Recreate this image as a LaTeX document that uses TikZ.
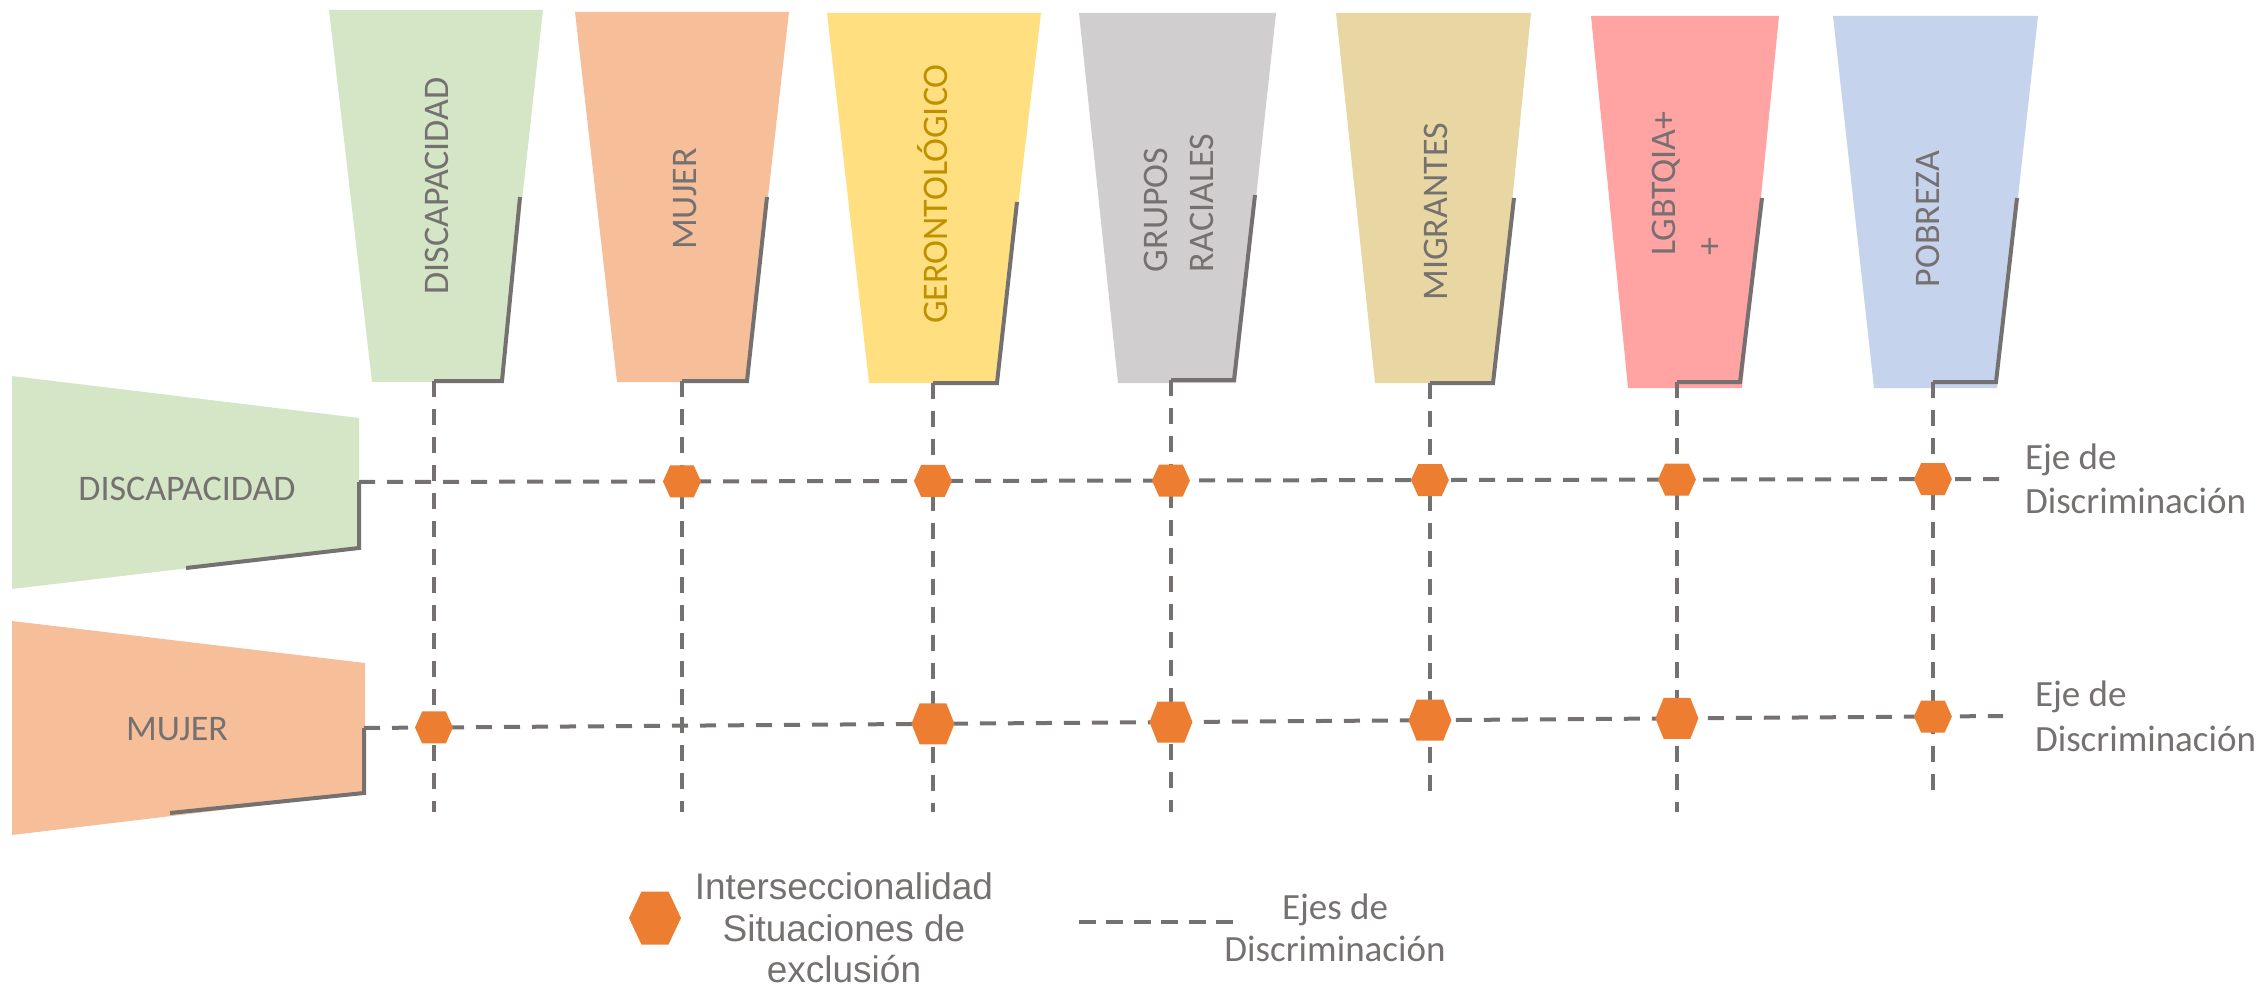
\documentclass[tikz,border=0pt]{standalone}
\usepackage{fontspec}
\setmainfont{Carlito}
\newfontfamily\arialf{Liberation Sans}
\usetikzlibrary{calc}
\definecolor{tgray}{HTML}{767171}
\definecolor{tgold}{HTML}{BF9000}
\definecolor{hexorange}{HTML}{ED7D31}
\definecolor{cgreen}{RGB}{212,230,198}
\definecolor{cpeach}{RGB}{247,191,153}
\definecolor{cyellow}{RGB}{255,223,128}
\definecolor{cgrey}{RGB}{208,206,206}
\definecolor{ctan}{RGB}{232,214,163}
\definecolor{cpink}{RGB}{255,163,163}
\definecolor{cblue}{RGB}{197,211,236}
\tikzset{
  axisline/.style={draw=tgray, line width=4pt, dash pattern=on 16pt off 12pt},
  edgeline/.style={draw=tgray, line width=4pt, line join=miter},
  lbl/.style={text=tgray, font=\fontsize{36}{46}\selectfont, inner sep=0pt, outer sep=0pt},
  hexbox/.style={inner sep=0pt, outer sep=0pt, draw=none},
}
\newcommand\myhex[5]{%
  \node[hexbox, minimum width=#3, minimum height=#4] (#1) at #2 {};
  \fill[hexorange] (#1.west)
    -- ($(#1.north west)!#5!(#1.north east)$)
    -- ($(#1.north east)!#5!(#1.north west)$)
    -- (#1.east)
    -- ($(#1.south east)!#5!(#1.south west)$)
    -- ($(#1.south west)!#5!(#1.south east)$) -- cycle;}
\begin{document}
\begin{tikzpicture}[x=1pt,y=-1pt]
\useasboundingbox (0,0) rectangle (2260,992);

% ---- top trapezoids
\fill[cgreen]  (329,10) -- (543,10) -- (502,382) -- (372,382) -- cycle;
\fill[cpeach]  (575,12) -- (789,12) -- (747,382) -- (617,382) -- cycle;
\fill[cyellow] (827,13) -- (1041,13) -- (997,383) -- (869,383) -- cycle;
\fill[cgrey]   (1079,13) -- (1276,13) -- (1236,383) -- (1118,383) -- cycle;
\fill[ctan]    (1336,13) -- (1531,13) -- (1494,383) -- (1375,383) -- cycle;
\fill[cpink]   (1591,16) -- (1779,16) -- (1742,388) -- (1628,388) -- cycle;
\fill[cblue]   (1833,16) -- (2038,16) -- (1997,388) -- (1874,388) -- cycle;

% ---- left trapezoids
\fill[cgreen] (12,376) -- (359,418) -- (359,548) -- (12,589) -- cycle;
\fill[cpeach] (12,621) -- (365,663) -- (365,793) -- (12,835) -- cycle;

% ---- column coordinates
\coordinate (s1) at (520,197);  \coordinate (k1) at (502,381);  \coordinate (v1t) at (434,381);  \coordinate (v1b) at (434,812);
\coordinate (s2) at (767,197);  \coordinate (k2) at (747,381);  \coordinate (v2t) at (682,381);  \coordinate (v2b) at (682,812);
\coordinate (s3) at (1017,202); \coordinate (k3) at (997,383);  \coordinate (v3t) at (933,383);  \coordinate (v3b) at (933,812);
\coordinate (s4) at (1255,195); \coordinate (k4) at (1234,380); \coordinate (v4t) at (1171,380); \coordinate (v4b) at (1171,812);
\coordinate (s5) at (1514,198); \coordinate (k5) at (1493,383); \coordinate (v5t) at (1430,383); \coordinate (v5b) at (1430,792);
\coordinate (s6) at (1762,198); \coordinate (k6) at (1740,382); \coordinate (v6t) at (1677,382); \coordinate (v6b) at (1677,812);
\coordinate (s7) at (2017,198); \coordinate (k7) at (1996,382); \coordinate (v7t) at (1933,382); \coordinate (v7b) at (1933,792);

% ---- row coordinates
\coordinate (r1s) at (186,568); \coordinate (r1k) at (359,548); \coordinate (h1l) at (359,482); \coordinate (h1r) at (1999,479);
\coordinate (r2s) at (170,813); \coordinate (r2k) at (364,793); \coordinate (h2l) at (364,728); \coordinate (h2r) at (2003,716);

% ---- solid edge lines
\foreach \i in {1,...,7} {\draw[edgeline] (s\i) -- (k\i) -- (v\i t);}
\draw[edgeline] (r1s) -- (r1k) -- (h1l);
\draw[edgeline] (r2s) -- (r2k) -- (h2l);

% ---- dashed axes
\foreach \i in {1,...,7} {\draw[axisline] (v\i t) -- (v\i b);}
\draw[axisline] (h1l) -- (h1r);
\draw[axisline] (h2l) -- (h2r);

% ---- hexagons, row 1
\myhex{x12}{(intersection of h1l--h1r and v2t--v2b)}{38pt}{32pt}{0.19}
\myhex{x13}{(intersection of h1l--h1r and v3t--v3b)}{38pt}{32pt}{0.19}
\myhex{x14}{(intersection of h1l--h1r and v4t--v4b)}{38pt}{32pt}{0.19}
\myhex{x15}{(intersection of h1l--h1r and v5t--v5b)}{38pt}{32pt}{0.19}
\myhex{x16}{(intersection of h1l--h1r and v6t--v6b)}{38pt}{32pt}{0.19}
\myhex{x17}{(intersection of h1l--h1r and v7t--v7b)}{38pt}{32pt}{0.19}
% ---- hexagons, row 2
\myhex{x21}{(intersection of h2l--h2r and v1t--v1b)}{38pt}{32pt}{0.19}
\myhex{x23}{(intersection of h2l--h2r and v3t--v3b)}{43pt}{41pt}{0.19}
\myhex{x24}{(intersection of h2l--h2r and v4t--v4b)}{43pt}{41pt}{0.19}
\myhex{x25}{(intersection of h2l--h2r and v5t--v5b)}{43pt}{41pt}{0.19}
\myhex{x26}{(intersection of h2l--h2r and v6t--v6b)}{43pt}{41pt}{0.19}
\myhex{x27}{(intersection of h2l--h2r and v7t--v7b)}{38pt}{32pt}{0.19}

% ---- top labels
\node[lbl, rotate=90, anchor=base] (tDis) at (448.5,186) {DISCAPACIDAD};
\node[lbl, rotate=90, anchor=base] (tMuj) at (696.5,199) {MUJER};
\node[lbl, rotate=90, anchor=base, text=tgold] (tGer) at (947.5,194) {GERONTOLÓGICO};
\node[lbl, rotate=90, align=left] (tGru) at (1179,203) {GRUPOS\\RACIALES};
\node[lbl, rotate=90, anchor=base] (tMig) at (1447.5,212) {MIGRANTES};
\node[lbl, rotate=90, align=left] (tLgb) at (1687,183.5) {LGBTQIA+\\+};
\node[lbl, rotate=90, anchor=base] (tPob) at (1939.5,219) {POBREZA};

% ---- left labels
\node[lbl, anchor=base] (lDis) at (187,500) {DISCAPACIDAD};
\node[lbl, anchor=base] (lMuj) at (177,740) {MUJER};

% ---- right labels
\node[lbl, font=\fontsize{37}{44}\selectfont, align=left, anchor=west] (e1) at (2025,479) {Eje de\\Discriminación};
\node[lbl, font=\fontsize{37}{45}\selectfont, align=left, anchor=west] (e2) at (2035,716.5) {Eje de\\Discriminación};

% ---- legend
\myhex{leg}{(655,918)}{52pt}{53pt}{0.24}
\node[lbl, font=\arialf\fontsize{37}{41.5}\selectfont, align=center] (legt) at (844,928) {Interseccionalidad\\Situaciones de\\exclusión};
\coordinate (l1) at (1079,922);
\coordinate (l2) at (1233,922);
\draw[draw=tgray, line width=4pt, dash pattern=on 17pt off 10.4pt] (l1) -- (l2);
\node[lbl, font=\fontsize{37}{42}\selectfont, align=center] (legd) at (1335,928) {Ejes de\\Discriminación};
\end{tikzpicture}
\end{document}
